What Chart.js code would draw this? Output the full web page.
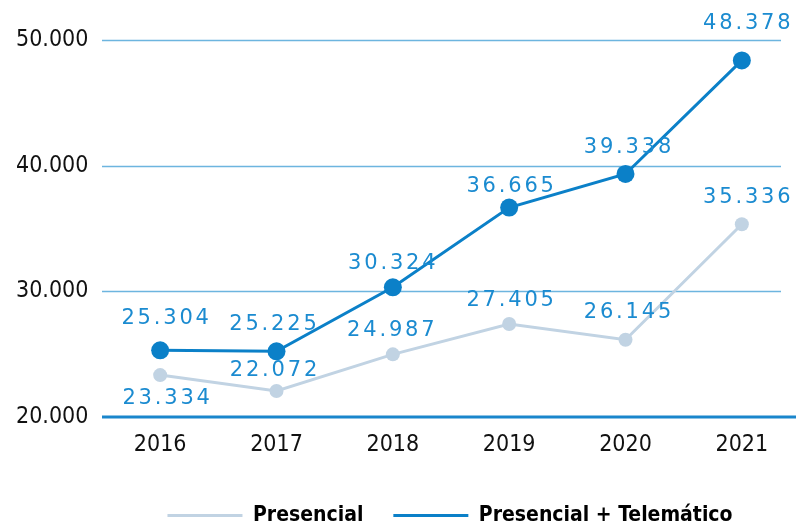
<!DOCTYPE html>
<html>
<head>
<meta charset="utf-8">
<script src="https://cdn.jsdelivr.net/npm/chart.js@4.4.0/dist/chart.umd.min.js"></script>
<style>
  html, body { margin: 0; padding: 0; background: #fff; overflow: hidden; }
  #wrap { width: 800px; height: 529px; }
</style>
</head>
<body>
<div id="wrap"><canvas id="chart" width="800" height="529"></canvas></div>
<script>
// data
const years = ['2016', '2017', '2018', '2019', '2020', '2021'];
const presencial = [23334, 22072, 24987, 27405, 26145, 35336];
const telematico = [25304, 25225, 30324, 36665, 39338, 48378];
const seriesNames = ['Presencial', 'Presencial + Telemático'];
const yMin = 20000, yMax = 50000, yStep = 10000;

const GREY = '#c1d3e3';
const BLUE = '#0b80c8';
const LABEL_BLUE = '#1b8bd0';
const GRID = '#6db5df';
const condensed = "'Liberation Sans Narrow', 'DejaVu Sans Condensed', sans-serif";

const fmt = v => v.toLocaleString('de-DE');

// value label placement relative to each point (px), per series
const labelDx = [
  [6, -3, -2, 1, 2, 5],
  [5, -3.5, -1, 1, 2, 5]
];
const labelDy = [
  [23, -20, -24, -23, -27, -27],
  [-31.5, -27, -24, -21, -26.5, -37]
];

// gridlines stop short of the right edge, baseline runs to the edge
const gridPlugin = {
  id: 'grid',
  beforeDatasetsDraw(chart) {
    const { ctx, chartArea, scales: { y } } = chart;
    ctx.save();
    y.ticks.forEach(t => {
      const py = Math.round(y.getPixelForValue(t.value));
      ctx.beginPath();
      if (t.value === yMin) {
        ctx.strokeStyle = '#1a86cc';
        ctx.lineWidth = 3;
        ctx.moveTo(chartArea.left, py);
        ctx.lineTo(chart.width, py);
      } else {
        ctx.strokeStyle = GRID;
        ctx.lineWidth = 1.5;
        ctx.moveTo(chartArea.left, py + 0.5);
        ctx.lineTo(781, py + 0.5);
      }
      ctx.stroke();
    });
    ctx.restore();
  }
};

const valueLabels = {
  id: 'valueLabels',
  afterDatasetsDraw(chart) {
    const ctx = chart.ctx;
    const ls = 2.8;
    ctx.save();
    ctx.font = "21px 'DejaVu Sans', sans-serif";
    ctx.fillStyle = LABEL_BLUE;
    ctx.textAlign = 'center';
    ctx.textBaseline = 'middle';
    try { ctx.letterSpacing = ls + 'px'; } catch (e) {}
    chart.data.datasets.forEach((ds, di) => {
      const meta = chart.getDatasetMeta(di);
      meta.data.forEach((pt, i) => {
        ctx.fillText(fmt(ds.data[i]), pt.x + labelDx[di][i] + ls / 2, pt.y + labelDy[di][i]);
      });
    });
    ctx.restore();
  }
};

new Chart(document.getElementById('chart'), {
  type: 'line',
  data: {
    labels: years,
    datasets: [
      {
        label: seriesNames[0],
        data: presencial,
        borderColor: GREY,
        backgroundColor: GREY,
        borderWidth: 3,
        pointRadius: 7,
        pointBackgroundColor: GREY,
        pointBorderWidth: 0,
        tension: 0,
        order: 2
      },
      {
        label: seriesNames[1],
        data: telematico,
        borderColor: BLUE,
        backgroundColor: BLUE,
        borderWidth: 3,
        pointRadius: 9,
        pointBackgroundColor: BLUE,
        pointBorderWidth: 0,
        tension: 0,
        order: 1
      }
    ]
  },
  options: {
    responsive: false,
    animation: false,
    layout: { autoPadding: false, padding: { top: 40, left: 100, right: 0, bottom: -7 } },
    plugins: {
      tooltip: { enabled: false },
      legend: {
        position: 'bottom',
        labels: {
          boxWidth: 75,
          boxHeight: 3,
          padding: 30,
          color: '#111',
          font: { family: condensed, size: 21, weight: 'bold' },
          generateLabels: chart => chart.data.datasets.map((ds, i) => ({
            text: ds.label,
            fillStyle: ds.borderColor,
            strokeStyle: ds.borderColor,
            lineWidth: 0,
            datasetIndex: i
          }))
        }
      }
    },
    scales: {
      x: {
        offset: true,
        grid: { display: false, drawTicks: false },
        border: { display: false },
        afterFit: s => { s.height = 58; },
        ticks: { color: '#111', padding: 14, font: { family: condensed, size: 23 } }
      },
      y: {
        min: yMin,
        max: yMax,
        grid: { display: false, drawTicks: false },
        border: { display: false },
        afterFit: s => { s.width = 2; },
        afterBuildTicks: s => { s.ticks = [yMin, yMin + yStep, yMin + 2 * yStep, yMax].map(v => ({ value: v })); },
        ticks: {
          mirror: true,
          padding: -86,
          color: '#111',
          font: { family: condensed, size: 23 },
          callback: v => fmt(v)
        }
      }
    }
  },
  plugins: [gridPlugin, valueLabels]
});
</script>
</body>
</html>
